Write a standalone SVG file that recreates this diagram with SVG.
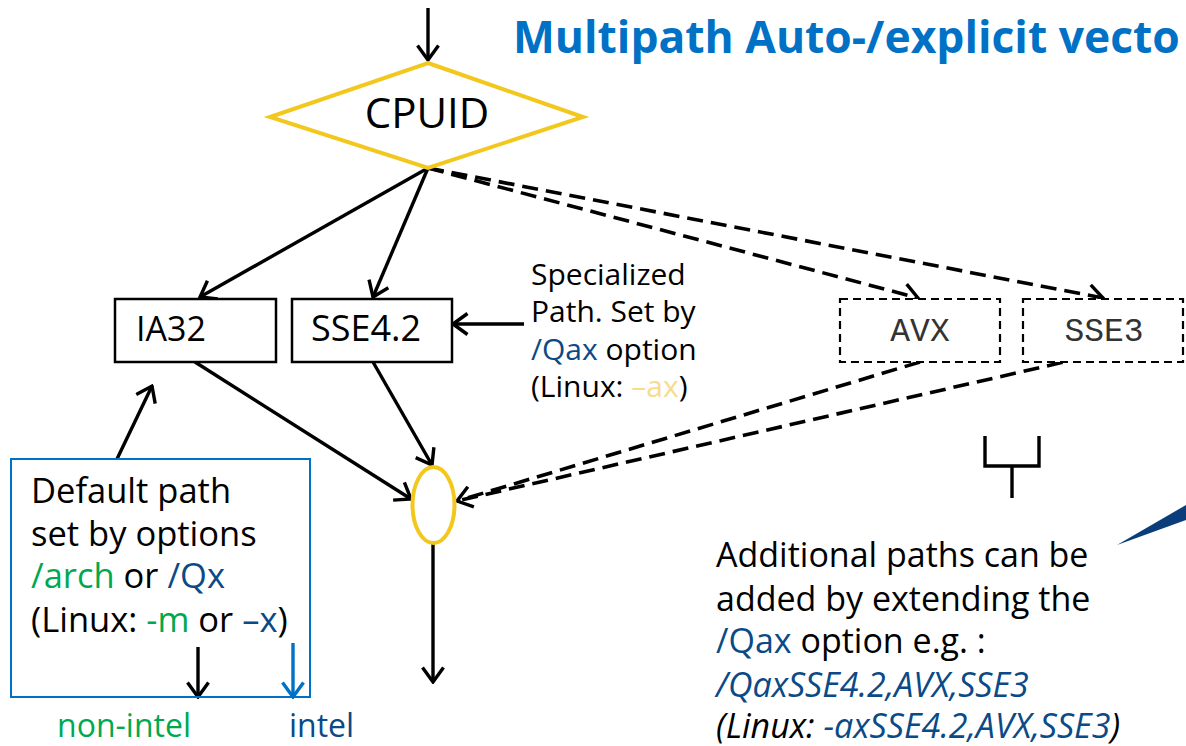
<svg xmlns="http://www.w3.org/2000/svg" width="1186" height="746" viewBox="0 0 1186 746">
<style>
.t{font-family:"Open Sans","Noto Sans",sans-serif;fill:#000}
.box{fill:#fff;stroke:#000;stroke-width:2.5}
.dbox{fill:#fff;stroke:#000;stroke-width:2.2;stroke-dasharray:8 5}
.mono{font-family:"Liberation Mono","DejaVu Sans Mono",monospace;fill:#333;font-size:33px}
.c{fill:none;stroke:#000;stroke-width:3.4}
.d{fill:none;stroke:#000;stroke-width:3.6;stroke-dasharray:16 8}
.g{fill:#00a94f}
.b{fill:#0a4a86}
</style>
<defs>
<marker id="ah" viewBox="0 0 18 24" refX="16" refY="12" markerWidth="18" markerHeight="24" markerUnits="userSpaceOnUse" orient="auto">
<path d="M1.5,1.5 L16,12 L1.5,22.5" fill="none" stroke="#000" stroke-width="3.4" stroke-dasharray="none"/>
</marker>
<marker id="ahb" viewBox="0 0 18 24" refX="16" refY="12" markerWidth="18" markerHeight="24" markerUnits="userSpaceOnUse" orient="auto">
<path d="M1.5,1.5 L16,12 L1.5,22.5" fill="none" stroke="#0071c5" stroke-width="3.4"/>
</marker>
</defs>
<rect width="1186" height="746" fill="#fff"/>

<text class="t" x="513" y="53" font-size="44.4" font-weight="bold" style="fill:#0071c5">Multipath Auto-/explicit vecto</text>

<g id="connectors">
<line class="c" x1="428" y1="8" x2="428" y2="60" marker-end="url(#ah)"/>
<line class="c" x1="428" y1="168" x2="200" y2="297" marker-end="url(#ah)"/>
<line class="c" x1="428" y1="168" x2="373" y2="297" marker-end="url(#ah)"/>
<line class="d" x1="428" y1="168" x2="918" y2="298" marker-end="url(#ah)"/>
<line class="d" x1="428" y1="168" x2="1103" y2="298" marker-end="url(#ah)"/>
<line class="c" x1="524" y1="324" x2="453" y2="324" marker-end="url(#ah)"/>
<line class="c" x1="195" y1="362" x2="411" y2="499" marker-end="url(#ah)"/>
<line class="c" x1="373" y1="362" x2="432" y2="465" marker-end="url(#ah)"/>
<line class="d" x1="920" y1="362" x2="457" y2="501" marker-end="url(#ah)"/>
<line class="d" x1="1086" y1="357" x2="457" y2="501"/>
<line class="c" x1="433" y1="543" x2="433" y2="682" marker-end="url(#ah)"/>
<line class="c" x1="117" y1="459" x2="152" y2="386" marker-end="url(#ah)"/>
<line class="c" x1="198" y1="647" x2="198" y2="697" marker-end="url(#ah)"/>
<line x1="293" y1="643" x2="293" y2="697" stroke="#0071c5" stroke-width="3.4" marker-end="url(#ahb)"/>
<path class="c" d="M985,436 V466 H1039 V436 M1012,466 V498"/>
<polygon points="1117,545 1186,505 1186,520" fill="#0a3d7a"/>
</g>

<g id="cpuid">
<polygon points="428,63 583,117 428,168 270,117" fill="#fff" stroke="#f2c81e" stroke-width="4"/>
<text class="t" x="427" y="128" font-size="42" text-anchor="middle">CPUID</text>
</g>

<g id="ia32">
<rect class="box" x="115" y="299" width="161" height="63"/>
<text class="t" x="136" y="341" font-size="34">IA32</text>
</g>

<g id="sse42">
<rect class="box" x="292" y="299" width="160" height="63"/>
<text class="t" x="311" y="341" font-size="36">SSE4.2</text>
</g>

<g id="avx">
<rect class="dbox" x="840" y="299" width="160" height="63"/>
<text class="mono" x="920" y="341" text-anchor="middle">AVX</text>
</g>

<g id="sse3">
<rect class="dbox" x="1023" y="299" width="160" height="63"/>
<text class="mono" x="1104" y="341" text-anchor="middle">SSE3</text>
</g>

<g id="merge">
<ellipse cx="433.5" cy="505" rx="21" ry="38" fill="#fff" stroke="#f2c81e" stroke-width="4"/>
</g>

<g id="specialized">
<text class="t" font-size="30">
<tspan x="531" y="285">Specialized</tspan>
<tspan x="531" y="322">Path. Set by</tspan>
<tspan x="531" y="360"><tspan class="b">/Qax</tspan> option</tspan>
<tspan x="531" y="397">(Linux: <tspan style="fill:#f7dc8c">–ax</tspan>)</tspan>
</text>
</g>

<g id="default">
<rect x="11" y="459" width="299" height="238" fill="none" stroke="#0071c5" stroke-width="2"/>
<text class="t" font-size="34.5">
<tspan x="31" y="503">Default path</tspan>
<tspan x="31" y="546">set by options</tspan>
<tspan x="31" y="588"><tspan class="g">/arch</tspan> or <tspan class="b">/Qx</tspan></tspan>
<tspan x="31" y="632">(Linux: <tspan class="g">-m</tspan> or <tspan class="b">–x</tspan>)</tspan>
</text>
</g>

<g id="labels">
<text class="t g" x="57" y="737" font-size="32">non-intel</text>
<text class="t b" x="289" y="737" font-size="32">intel</text>
</g>

<g id="additional">
<text class="t" font-size="34">
<tspan x="716" y="567">Additional paths can be</tspan>
<tspan x="716" y="611">added by extending the</tspan>
<tspan x="716" y="653"><tspan class="b">/Qax</tspan> option e.g. :</tspan>
<tspan x="716" y="697" class="b" font-style="italic">/QaxSSE4.2,AVX,SSE3</tspan>
<tspan x="716" y="738" font-style="italic">(Linux: <tspan class="b">-axSSE4.2,AVX,SSE3</tspan>)</tspan>
</text>
</g>
</svg>
